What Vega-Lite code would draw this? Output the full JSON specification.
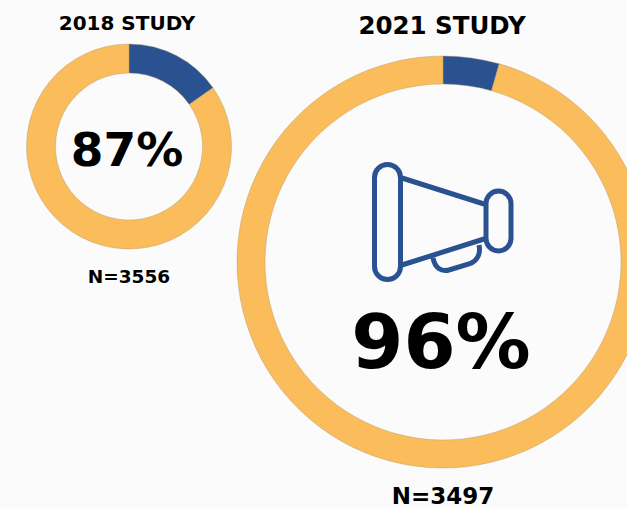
{"$schema":"https://vega.github.io/schema/vega-lite/v6.json","width":627,"height":508,"padding":0,"autosize":{"type":"none"},"background":"#fbfbfb","view":{"stroke":null},"config":{"text":{"font":"DejaVu Sans","fontWeight":"bold","color":"#000000","baseline":"middle","align":"center"}},"datasets":{"shares":[{"study":"2018","response":"No","share":15.3},{"study":"2018","response":"Yes","share":84.7},{"study":"2021","response":"No","share":4.4},{"study":"2021","response":"Yes","share":95.6}],"labels":[{"study":"2018","title":"2018 STUDY","percent":"87%","n":"N=3556"},{"study":"2021","title":"2021 STUDY","percent":"96%","n":"N=3497"}]},"encoding":{"x":{"field":"study","type":"nominal","axis":null,"scale":{"type":"point","padding":0,"domain":["2018","2021"],"range":[129,443]}},"y":{"field":"study","type":"nominal","axis":null,"scale":{"type":"point","padding":0,"domain":["2018","2021"],"range":[146.5,262]}}},"layer":[{"data":{"name":"shares"},"transform":[{"filter":"datum.study==='2018'"}],"mark":{"type":"arc","radius":102.5,"radius2":73.5,"stroke":"#a89468","strokeWidth":0.4},"encoding":{"theta":{"field":"share","type":"quantitative","stack":true,"scale":{"domain":[0,100]}},"order":{"field":"response"},"color":{"field":"response","type":"nominal","legend":null,"scale":{"domain":["No","Yes"],"range":["#2a5290","#fbbc5c"]}}}},{"data":{"name":"shares"},"transform":[{"filter":"datum.study==='2021'"}],"mark":{"type":"arc","radius":206,"radius2":178,"stroke":"#a89468","strokeWidth":0.4},"encoding":{"theta":{"field":"share","type":"quantitative","stack":true,"scale":{"domain":[0,100]}},"order":{"field":"response"},"color":{"field":"response","type":"nominal","legend":null,"scale":{"domain":["No","Yes"],"range":["#2a5290","#fbbc5c"]}}}},{"data":{"name":"labels"},"transform":[{"filter":"datum.study==='2021'"}],"mark":{"type":"point","filled":false,"opacity":1,"stroke":"#2a5290","strokeWidth":5,"size":4,"shape":"M-68.5 -84.5 A13 13 0 0 1 -42.5 -84.5 L-42.5 4.5 A13 13 0 0 1 -68.5 4.5 Z M-41 -84 L41 -58 M-41 3 L41 -23 M43 -58.5 A12.5 12.5 0 0 1 68 -58.5 L68 -23.5 A12.5 12.5 0 0 1 43 -23.5 Z M-10 -4 C-8 6 -2 10 6 8 L26 2 C34 -1 38 -8 36 -17"}},{"data":{"name":"labels"},"transform":[{"filter":"datum.study==='2018'"}],"mark":{"type":"text","fontSize":20,"dy":-122.5,"dx":-2},"encoding":{"text":{"field":"title"}}},{"data":{"name":"labels"},"transform":[{"filter":"datum.study==='2018'"}],"mark":{"type":"text","fontSize":47,"dy":5,"dx":-2},"encoding":{"text":{"field":"percent"}}},{"data":{"name":"labels"},"transform":[{"filter":"datum.study==='2018'"}],"mark":{"type":"text","fontSize":18.5,"dy":130.5},"encoding":{"text":{"field":"n"}}},{"data":{"name":"labels"},"transform":[{"filter":"datum.study==='2021'"}],"mark":{"type":"text","fontSize":24.5,"dy":-235.5,"dx":-1},"encoding":{"text":{"field":"title"}}},{"data":{"name":"labels"},"transform":[{"filter":"datum.study==='2021'"}],"mark":{"type":"text","fontSize":75,"dy":83,"dx":-2},"encoding":{"text":{"field":"percent"}}},{"data":{"name":"labels"},"transform":[{"filter":"datum.study==='2021'"}],"mark":{"type":"text","fontSize":23,"dy":235},"encoding":{"text":{"field":"n"}}}]}
